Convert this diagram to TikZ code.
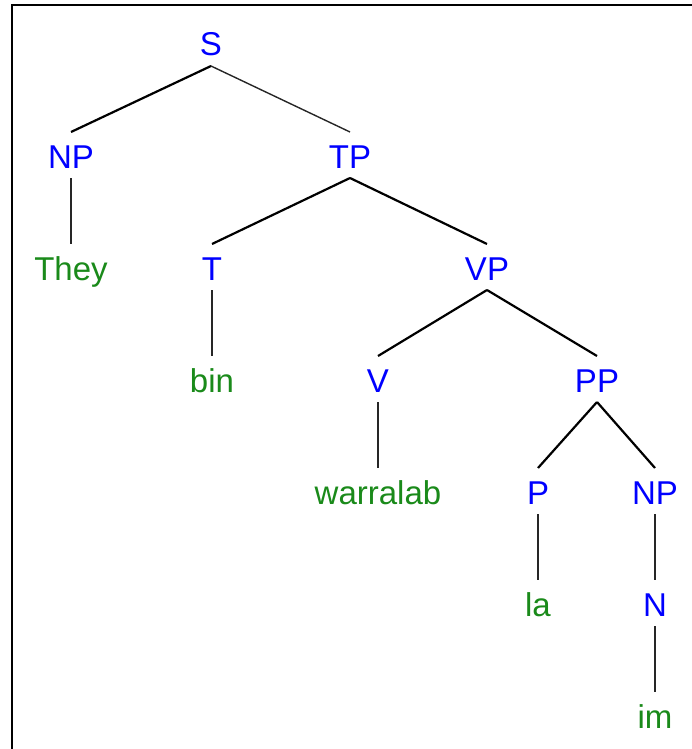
\documentclass[tikz,border=0pt]{standalone}
\usepackage{fontspec}
\setmainfont{Liberation Sans}
\usetikzlibrary{calc}
\definecolor{catblue}{HTML}{0000FF}
\definecolor{wordgreen}{HTML}{1A8A1A}
\begin{document}
\begin{tikzpicture}[x=1pt,y=-1pt,
  cat/.style={anchor=base,inner sep=0pt,text=catblue,font=\fontsize{33}{40}\selectfont},
  word/.style={anchor=base,inner sep=0pt,text=wordgreen,font=\fontsize{33}{40}\selectfont},
  branch/.style={draw=black,line width=2.2pt},
  thin/.style={draw=black!85,line width=1.4pt}]
\useasboundingbox (0,0) rectangle (692,749);
% frame
\draw[line width=2.4pt] (12,749) -- (12,5) -- (692,5);
% nodes (baselines every 112 units)
\node[cat]  (S)    at (211,56)  {S};
\node[cat]  (NP)   at (71,168)  {NP};
\node[cat]  (TP)   at (350,168) {TP};
\node[word] (They) at (71,280)  {They};
\node[cat]  (T)    at (212,280) {T};
\node[cat]  (VP)   at (487,280) {VP};
\node[word] (bin)  at (212,392) {bin};
\node[cat]  (V)    at (378,392) {V};
\node[cat]  (PP)   at (597,392) {PP};
\node[word] (warralab) at (378,504) {warralab};
\node[cat]  (P)    at (538,504) {P};
\node[cat]  (NPb)  at (655,504) {NP};
\node[word] (la)   at (538,616) {la};
\node[cat]  (N)    at (655,616) {N};
\node[word] (im)   at (655,728) {im};
% connectors: from below a parent's baseline to above a child's letters
\newcommand{\edge}[3]{\draw[#1] ($(#2.base)+(0,10)$) -- ($(#3.base)+(0,-36)$);}
\edge{branch}{S}{NP}
\edge{thin}{S}{TP}
\edge{thin}{NP}{They}
\edge{branch}{TP}{T}
\edge{branch}{TP}{VP}
\edge{thin}{T}{bin}
\edge{branch}{VP}{V}
\edge{branch}{VP}{PP}
\edge{thin}{V}{warralab}
\edge{branch}{PP}{P}
\edge{branch}{PP}{NPb}
\edge{thin}{P}{la}
\edge{thin}{NPb}{N}
\edge{thin}{N}{im}
\end{tikzpicture}
\end{document}
